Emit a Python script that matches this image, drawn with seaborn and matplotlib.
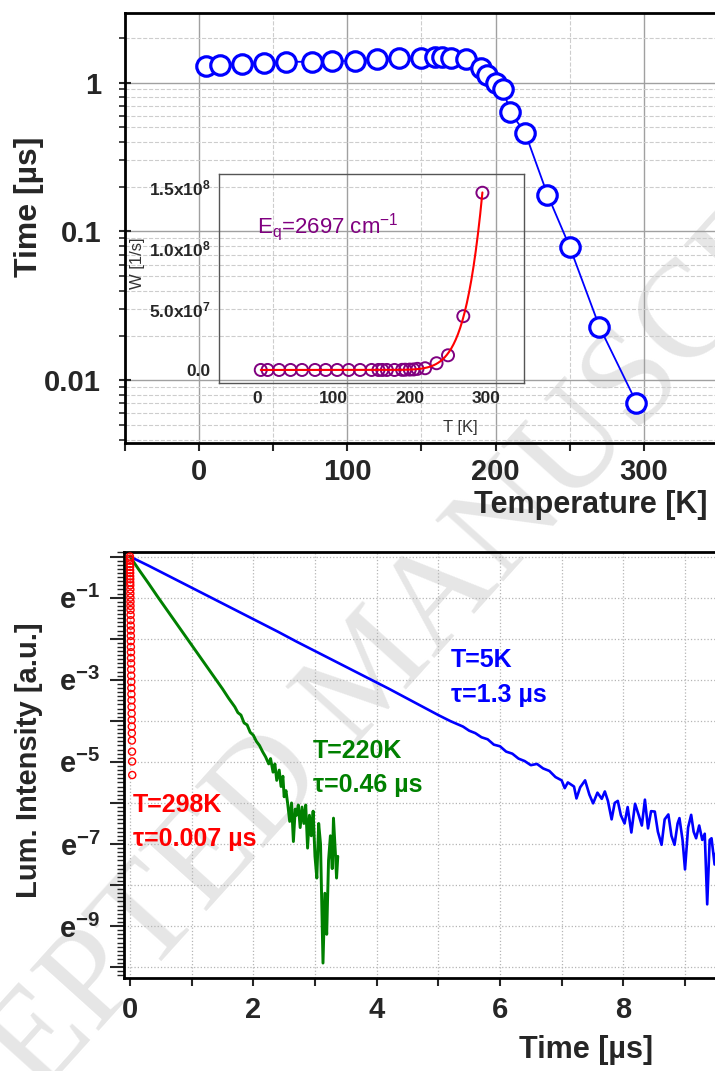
import numpy as np
import matplotlib
matplotlib.use('Agg')
import matplotlib.pyplot as plt
import seaborn as sns
from matplotlib.ticker import MultipleLocator, FixedLocator, FixedFormatter, LogLocator, NullFormatter, FuncFormatter

# ---- top panel: decay time vs temperature
temp_K = [5, 14, 29, 44, 59, 76, 90, 105, 120, 135, 150, 159, 164, 170, 180,
          190, 194, 200, 205, 210, 220, 235, 250, 270, 295]
tau_us = [1.30, 1.31, 1.34, 1.35, 1.38, 1.38, 1.39, 1.40, 1.43, 1.46, 1.46, 1.49, 1.49, 1.46, 1.43,
          1.25, 1.13, 1.00, 0.91, 0.63, 0.46, 0.177, 0.079, 0.023, 0.0071]

# inset: quenching rate W [1/s]
w_inset = [0, 0, 0, 0, 0, 0, 0, 0, 0, 0, 0, 0, 0, 0, 0,
           0.1e6, 0.2e6, 0.3e6, 0.4e6, 0.9e6, 1.4e6, 5.5e6, 1.2e7, 4.4e7, 1.45e8]
eq_cm = 2697        # activation energy from the fit label
fit_A = 7.5e13      # fit prefactor

# ---- bottom panel: decays, ln(I) vs time [us]
t_5K = [0.0, 0.3, 0.6, 0.9, 1.2, 1.5, 1.8, 2.1, 2.4, 2.7, 3.0, 3.3, 3.6, 3.9, 4.2, 4.5, 4.8,
        5.0, 5.2, 5.4, 5.5, 5.6, 5.7, 5.8, 5.9, 6.0, 6.1, 6.2, 6.3, 6.4, 6.5, 6.6, 6.7, 6.8,
        6.9, 7.0, 7.05, 7.1, 7.2, 7.24, 7.3, 7.38, 7.45, 7.51, 7.58, 7.65, 7.7, 7.75, 7.81,
        7.86, 7.91, 7.96, 8.02, 8.07, 8.13, 8.19, 8.25, 8.3, 8.35, 8.4, 8.45, 8.51, 8.56,
        8.62, 8.67, 8.73, 8.78, 8.83, 8.88, 8.91, 8.96, 9.0, 9.05, 9.10, 9.14, 9.18, 9.23,
        9.28, 9.32, 9.36, 9.40, 9.43, 9.48, 9.52]
ln_5K = [0.0, -0.22, -0.45, -0.68, -0.91, -1.14, -1.37, -1.60, -1.83, -2.07, -2.30, -2.53,
         -2.76, -2.99, -3.22, -3.46, -3.70, -3.86, -4.01, -4.14, -4.24, -4.30, -4.40, -4.45,
         -4.58, -4.62, -4.75, -4.80, -4.92, -4.98, -5.08, -5.05, -5.16, -5.22, -5.37, -5.45,
         -5.64, -5.50, -5.60, -5.89, -5.62, -5.45, -5.80, -6.01, -5.75, -5.90, -5.72, -5.95,
         -6.40, -6.00, -5.95, -6.30, -6.50, -6.10, -6.72, -6.02, -6.30, -6.55, -5.92, -6.62,
         -6.20, -6.21, -6.70, -7.02, -6.40, -6.28, -6.80, -7.02, -6.50, -6.37, -6.90, -7.62,
         -6.60, -6.29, -6.70, -6.86, -6.55, -6.90, -6.75, -8.47, -6.90, -6.86, -7.50, -7.00]

t_220K = [0.0, 0.15, 0.3, 0.45, 0.6, 0.75, 0.9, 1.05, 1.2, 1.35, 1.5, 1.6, 1.7, 1.75, 1.8,
          1.85, 1.9, 1.95, 2.0, 2.05, 2.1, 2.15, 2.2, 2.25, 2.28, 2.32, 2.35, 2.38, 2.42,
          2.45, 2.48, 2.5, 2.53, 2.56, 2.59, 2.62, 2.65, 2.68, 2.70, 2.73, 2.76, 2.79, 2.82,
          2.85, 2.88, 2.91, 2.94, 2.97, 3.0, 3.03, 3.06, 3.09, 3.13, 3.16, 3.19, 3.22, 3.25,
          3.28, 3.30, 3.33, 3.35, 3.37]
ln_220K = [0.0, -0.33, -0.65, -0.98, -1.30, -1.62, -1.94, -2.26, -2.58, -2.90, -3.22, -3.45,
           -3.66, -3.80, -3.86, -4.05, -4.10, -4.28, -4.35, -4.50, -4.60, -4.75, -4.88, -5.05,
           -4.92, -5.25, -5.05, -5.45, -5.20, -5.60, -5.35, -5.85, -5.70, -6.05, -6.45, -6.00,
           -6.94, -6.15, -6.30, -6.05, -6.60, -6.10, -6.50, -6.05, -7.10, -6.30, -6.80, -6.20,
           -7.30, -7.83, -6.50, -7.00, -9.90, -8.20, -9.20, -7.40, -6.80, -7.60, -6.37, -7.20,
           -7.83, -7.30]

t_298K = [0.000, 0.000, 0.001, 0.001, 0.002, 0.002, 0.003, 0.003, 0.004, 0.004, 0.005, 0.006,
          0.006, 0.007, 0.008, 0.008, 0.009, 0.010, 0.011, 0.012, 0.013, 0.014, 0.014, 0.015,
          0.016, 0.017, 0.018, 0.019, 0.020, 0.021, 0.022, 0.023, 0.025, 0.026, 0.027, 0.028,
          0.029, 0.030, 0.031, 0.033, 0.035, 0.037]
ln_298K = [0.0, -0.05, -0.1, -0.18, -0.25, -0.33, -0.4, -0.48, -0.55, -0.63, -0.7, -0.8, -0.9,
           -1.0, -1.1, -1.2, -1.3, -1.42, -1.55, -1.68, -1.8, -1.93, -2.06, -2.2, -2.33, -2.47,
           -2.6, -2.75, -2.9, -3.05, -3.2, -3.35, -3.5, -3.66, -3.82, -3.98, -4.14, -4.3, -4.48,
           -4.75, -4.99, -5.32]

sns.set_style('white')
plt.rcParams['font.family'] = ['Liberation Sans', 'DejaVu Sans']
plt.rcParams['font.weight'] = 'bold'
plt.rcParams['axes.labelweight'] = 'bold'
plt.rcParams['mathtext.fontset'] = 'custom'
plt.rcParams['mathtext.rm'] = 'Liberation Sans:weight=normal'
plt.rcParams['mathtext.bf'] = 'Liberation Sans:weight=bold'
plt.rcParams['mathtext.it'] = 'Liberation Sans:italic'
plt.rcParams['mathtext.default'] = 'bf'

fig = plt.figure(figsize=(7.15, 10.71), dpi=100)

# watermark
fig.text(0.524, 0.370, 'ACCEPTED MANUSCRIPT', rotation=48, rotation_mode='anchor',
         ha='center', va='center', fontsize=100, family='Liberation Serif',
         weight='normal', color='#e6e6e6', zorder=-1)

# ===== top panel
ax1 = fig.add_axes([0.1745, 0.5864, 0.8297, 0.4018])
ax1.set_facecolor('none')
ax1.set_yscale('log')
sns.lineplot(x=temp_K, y=tau_us, ax=ax1, color='blue', lw=1.3, marker='o', markersize=14,
             markerfacecolor='white', markeredgecolor='blue', markeredgewidth=2.3,
             sort=False, estimator=None, zorder=3)
ax1.set_xlim(-50, 350)
ax1.set_ylim(0.0038, 2.95)
ax1.xaxis.set_major_locator(MultipleLocator(100))
ax1.xaxis.set_minor_locator(MultipleLocator(50))
ax1.yaxis.set_major_locator(FixedLocator([0.01, 0.1, 1]))
ax1.yaxis.set_major_formatter(FixedFormatter(['0.01', '0.1', '1']))
ax1.yaxis.set_minor_locator(LogLocator(base=10, subs=np.arange(2, 10)))
ax1.yaxis.set_minor_formatter(NullFormatter())
ax1.grid(which='major', color='#a0a0a0', lw=1.0, ls='-')
ax1.grid(which='minor', color='#cdcdcd', lw=0.8, ls='--')
ax1.tick_params(axis='x', which='both', direction='out', length=6, width=1.5, labelsize=21, pad=5,
                bottom=True)
ax1.tick_params(axis='y', which='major', direction='inout', length=8, width=1.5, labelsize=21,
                pad=13, left=True)
ax1.tick_params(axis='y', which='minor', direction='out', length=4, width=1.2, left=True)
for s in ['top', 'left', 'bottom']:
    ax1.spines[s].set_linewidth(2)
    ax1.spines[s].set_color('black')
ax1.spines['right'].set_visible(False)
ax1.set_xlabel('Temperature [K]', fontsize=22, ha='right', va='center')
ax1.xaxis.set_label_coords(0.982, -0.145)
ax1.set_ylabel('Time [\u00b5s]', fontsize=23, ha='center', va='center')
ax1.yaxis.set_label_coords(-0.162, 0.548)

# ===== inset
ax3 = fig.add_axes([0.3059, 0.6427, 0.4276, 0.1949])
ax3.set_facecolor('none')
fit_T = np.linspace(5, 295, 300)
w_fit = fit_A * np.exp(-eq_cm / (0.695 * fit_T))   # Arrhenius fit curve
sns.scatterplot(x=temp_K, y=w_inset, ax=ax3, s=75, facecolor='none', edgecolor='#800080',
                linewidth=1.4, zorder=3)
sns.lineplot(x=fit_T, y=w_fit, ax=ax3, color='red', lw=1.5, sort=False, estimator=None, zorder=4)
ax3.set_xlim(-50, 350)
ax3.set_ylim(-1.04e7, 1.604e8)
ax3.xaxis.set_major_locator(FixedLocator([0, 100, 200, 300]))
ax3.xaxis.set_minor_locator(MultipleLocator(50))
ax3.yaxis.set_major_locator(FixedLocator([0, 5e7, 1e8, 1.5e8]))
ax3.yaxis.set_major_formatter(FixedFormatter(['0.0', '5.0x10$^{7}$', '1.0x10$^{8}$', '1.5x10$^{8}$']))
ax3.yaxis.set_minor_locator(MultipleLocator(2.5e7))
ax3.tick_params(which='both', direction='out', length=4, width=1, color='#555555',
                labelsize=12.5, pad=2)
for s in ax3.spines.values():
    s.set_color('#555555')
    s.set_linewidth(1.0)
ax3.set_xlabel('T [K]', fontsize=12, fontweight='normal', color='#333333')
ax3.xaxis.set_label_coords(0.79, -0.18)
ax3.set_ylabel('W [1/s]', fontsize=12, fontweight='normal', color='#333333', va='center')
ax3.yaxis.set_label_coords(-0.267, 0.574)
ax3.text(0, 1.17e8, r'E$_\mathrm{q}$=2697 cm$^\mathrm{-1}$', color='#800080', fontsize=16,
         fontweight='normal', ha='left', va='center')

# ===== bottom panel
ax2 = fig.add_axes([0.1734, 0.0866, 0.8364, 0.3983])
ax2.set_facecolor('none')
sns.lineplot(x=t_5K, y=ln_5K, ax=ax2, color='blue', lw=1.9, sort=False, estimator=None, zorder=3)
sns.lineplot(x=t_220K, y=ln_220K, ax=ax2, color='#008000', lw=2.1, sort=False, estimator=None,
             zorder=3)
sns.scatterplot(x=t_298K, y=ln_298K, ax=ax2, s=26, facecolor='none', edgecolor='red',
                linewidth=1.0, zorder=4)
ax2.set_xlim(-0.097, 9.6)
ax2.set_ylim(-10.27, 0.12)
ax2.xaxis.set_major_locator(MultipleLocator(2))
ax2.xaxis.set_minor_locator(MultipleLocator(1))
ax2.yaxis.set_major_locator(MultipleLocator(1))
ax2.yaxis.set_minor_locator(MultipleLocator(0.1))
ax2.yaxis.set_major_formatter(FuncFormatter(
    lambda v, p: 'e$^{%d}$' % round(v) if round(v) % 2 == 1 and round(v) < 0 else ''))
ax2.grid(which='major', axis='y', color='#b5b5b5', lw=0.9, ls=':')
ax2.grid(which='both', axis='x', color='#b5b5b5', lw=0.9, ls=':')
ax2.tick_params(axis='x', which='both', direction='out', length=6, width=1.5, labelsize=21, pad=7,
                bottom=True)
ax2.tick_params(axis='y', which='major', direction='out', length=10, width=1.5, labelsize=21,
                pad=7, left=True)
ax2.tick_params(axis='y', which='minor', direction='out', length=5, width=1.0, left=True)
for s in ['top', 'left', 'bottom']:
    ax2.spines[s].set_linewidth(2)
    ax2.spines[s].set_color('black')
ax2.spines['right'].set_visible(False)
ax2.set_xlabel('Time [\u00b5s]', fontsize=22, ha='right', va='center')
ax2.xaxis.set_label_coords(0.885, -0.168)
ax2.set_ylabel('Lum. Intensity [a.u.]', fontsize=21, ha='center', va='center')
ax2.yaxis.set_label_coords(-0.159, 0.512)

ax2.text(5.2, -2.52, 'T=5K', color='blue', fontsize=18, ha='left', va='center')
ax2.text(5.2, -3.38, '\u03c4=1.3 \u00b5s', color='blue', fontsize=18, ha='left', va='center')
ax2.text(2.97, -4.74, 'T=220K', color='#008000', fontsize=18, ha='left', va='center')
ax2.text(2.97, -5.56, '\u03c4=0.46 \u00b5s', color='#008000', fontsize=18, ha='left', va='center')
ax2.text(0.045, -6.06, 'T=298K', color='red', fontsize=18, ha='left', va='center')
ax2.text(0.045, -6.88, '\u03c4=0.007 \u00b5s', color='red', fontsize=18, ha='left', va='center')

fig.savefig('out.png', dpi=100)
